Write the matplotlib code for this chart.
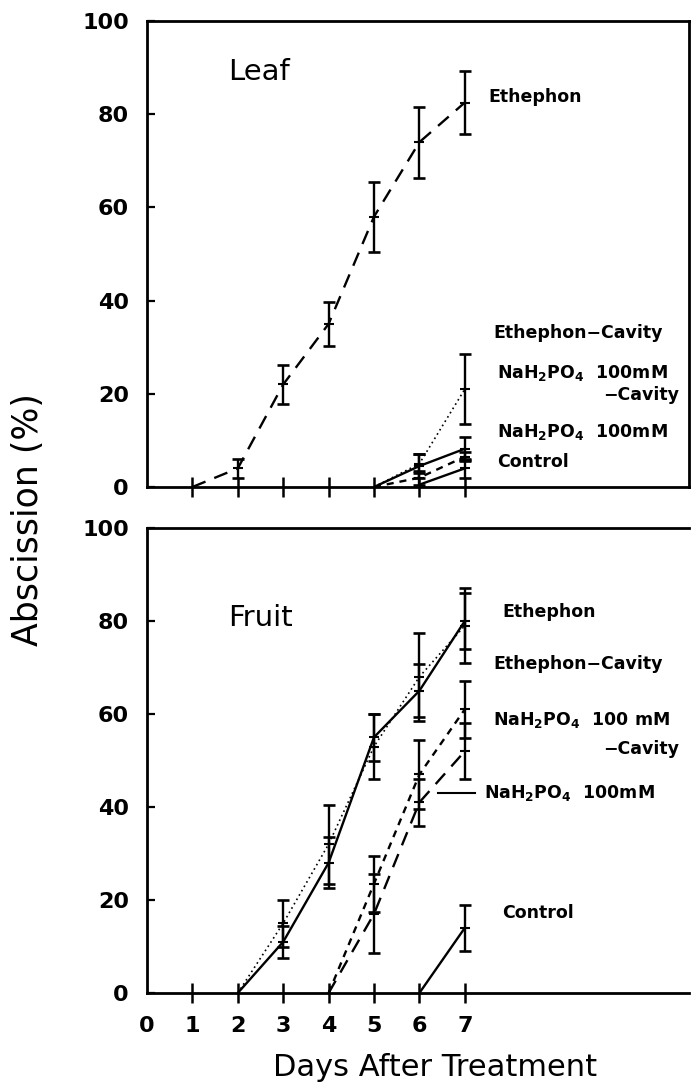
import matplotlib
matplotlib.use('Agg')
import matplotlib.pyplot as plt
import numpy as np

plt.rcParams['font.family'] = ['DejaVu Sans']
plt.rcParams['mathtext.default'] = 'regular'

# ---------------- data ----------------
xtick_vals = [0, 1, 2, 3, 4, 5, 6, 7]
xtick_labels = ['0', '1', '2', '3', '4', '5', '6', '7']
ytick_vals = [0, 20, 40, 60, 80, 100]
ytick_labels = ['0', '20', '40', '60', '80', '100']

# Leaf panel
leaf_eth_days = [1, 2, 3, 4, 5, 6, 7]
leaf_eth = [0, 4, 22, 35, 58, 74, 82.5]
leaf_eth_err = [0, 2, 4.2, 4.7, 7.5, 7.6, 6.8]

leaf_ethcav_days = [5, 6, 7]
leaf_ethcav = [0, 5, 21]
leaf_ethcav_err = [0, 2, 7.5]

leaf_nacav_days = [5, 6, 7]
leaf_nacav = [0, 4.5, 8.2]
leaf_nacav_err = [0, 2.5, 2.5]

leaf_na_days = [5, 6, 7]
leaf_na = [0, 2, 6.5]
leaf_na_err = [0, 1.5, 1.0]

leaf_ctrl_days = [6, 7]
leaf_ctrl = [0.5, 4]
leaf_ctrl_err = [0, 2]

# Fruit panel
fruit_eth_days = [2, 3, 4, 5, 6, 7]
fruit_eth = [0, 11, 28, 55, 65, 80]
fruit_eth_err = [0, 3.5, 5.5, 5, 5.7, 6]

fruit_ethcav_days = [2, 3, 4, 5, 6, 7]
fruit_ethcav = [0, 15, 32, 53, 68, 79]
fruit_ethcav_err = [0, 5, 8.5, 7, 9.5, 8]

fruit_nacav_days = [4, 5, 6, 7]
fruit_nacav = [0, 23.5, 47, 61]
fruit_nacav_err = [0, 6, 7.5, 6.2]

fruit_na_days = [4, 5, 6, 7]
fruit_na = [0, 17, 41, 52]
fruit_na_err = [0, 8.5, 5, 6]

fruit_ctrl_days = [6, 7]
fruit_ctrl = [0, 14]
fruit_ctrl_err = [0, 5]

NA_LABEL = r'NaH$_\mathbf{2}$PO$_\mathbf{4}$  100mM'
NA_LABEL_SP = r'NaH$_\mathbf{2}$PO$_\mathbf{4}$  100 mM'

# ---------------- styles ----------------
SOLID = dict(linestyle='-')
LONGDASH = dict(dashes=(6, 4))
SHORTDASH = dict(dashes=(3, 2.5))
DOTTED = dict(dashes=(1, 2.0))

LW = 1.7


def draw_series(ax, days, vals, errs, style, lw=LW):
    days = np.asarray(days, float)
    vals = np.asarray(vals, float)
    errs = np.asarray(errs, float)
    ax.plot(days, vals, color='black', lw=lw, solid_capstyle='butt',
            dash_capstyle='butt', **style)
    m = errs > 0
    ax.errorbar(days[m], vals[m], yerr=errs[m], fmt='none', ecolor='black',
                elinewidth=1.7, capsize=4.2, capthick=1.9)
    ax.plot(days[m], vals[m], linestyle='none', marker='_', markersize=7,
            markeredgewidth=1.5, color='black')


W, H = 691, 1086
fig = plt.figure(figsize=(W / 100, H / 100), dpi=100)

x0 = 147 / W
axw = (689 - 147) / W
ax_top = fig.add_axes([x0, 1 - 487 / H, axw, (487 - 21) / H])
ax_bot = fig.add_axes([x0, 1 - 993 / H, axw, (993 - 528) / H])

for ax in (ax_top, ax_bot):
    ax.set_xlim(0, (689 - 147) / 45.4)
    ax.set_ylim(0, 100)
    for s in ax.spines.values():
        s.set_linewidth(2.0)
    ax.set_yticks(ytick_vals)
    ax.set_yticklabels(ytick_labels, fontsize=16, fontweight='bold')
    ax.tick_params(axis='y', direction='in', length=6, width=1.6, pad=13)
    ax.set_xticks(xtick_vals)
    ax.tick_params(axis='x', direction='inout', length=15, width=1.8, pad=9)
    ax.xaxis.get_major_ticks()[0].tick1line.set_visible(False)

ax_top.set_xticklabels([])
ax_bot.set_xticklabels(xtick_labels, fontsize=16, fontweight='bold')
ax_bot.spines['right'].set_visible(False)

# ---- Leaf ----
draw_series(ax_top, leaf_eth_days, leaf_eth, leaf_eth_err, LONGDASH)
draw_series(ax_top, leaf_ethcav_days, leaf_ethcav, leaf_ethcav_err, DOTTED, lw=1.2)
draw_series(ax_top, leaf_nacav_days, leaf_nacav, leaf_nacav_err, SOLID)
draw_series(ax_top, leaf_na_days, leaf_na, leaf_na_err, SHORTDASH)
draw_series(ax_top, leaf_ctrl_days, leaf_ctrl, leaf_ctrl_err, SOLID)

ax_top.text(1.78, 89, 'Leaf', fontsize=21, va='center', ha='left')
lab = dict(fontsize=12.5, fontweight='bold', va='center', ha='left')
ax_top.text(7.51, 83.7, 'Ethephon', **lab)
ax_top.text(7.62, 33.0, 'Ethephon\u2212Cavity', **lab)
ax_top.text(7.71, 24.5, NA_LABEL, **lab)
ax_top.text(11.72, 19.7, '\u2212Cavity', fontsize=12.5, fontweight='bold',
            va='center', ha='right')
ax_top.text(7.71, 11.8, NA_LABEL, **lab)
ax_top.text(7.71, 5.4, 'Control', **lab)

# ---- Fruit ----
draw_series(ax_bot, fruit_eth_days, fruit_eth, fruit_eth_err, SOLID)
draw_series(ax_bot, fruit_ethcav_days, fruit_ethcav, fruit_ethcav_err, DOTTED, lw=1.2)
draw_series(ax_bot, fruit_nacav_days, fruit_nacav, fruit_nacav_err, SHORTDASH)
draw_series(ax_bot, fruit_na_days, fruit_na, fruit_na_err, LONGDASH)
draw_series(ax_bot, fruit_ctrl_days, fruit_ctrl, fruit_ctrl_err, SOLID)

ax_bot.text(1.78, 80.6, 'Fruit', fontsize=21, va='center', ha='left')
ax_bot.text(7.82, 81.9, 'Ethephon', **lab)
ax_bot.text(7.64, 70.8, 'Ethephon\u2212Cavity', **lab)
ax_bot.text(7.62, 58.7, NA_LABEL_SP, **lab)
ax_bot.text(11.72, 52.5, '\u2212Cavity', fontsize=12.5, fontweight='bold',
            va='center', ha='right')
ax_bot.plot([6.41, 7.22], [43, 43], color='black', lw=1.5)
ax_bot.text(7.42, 43.0, NA_LABEL, **lab)
ax_bot.text(7.82, 17.2, 'Control', **lab)

fig.text(28 / W, 1 - 520 / H, 'Abscission (%)', rotation=90, fontsize=25,
         ha='center', va='center')
fig.text(435 / W, 1 - 1067 / H, 'Days After Treatment', fontsize=22,
         ha='center', va='center')

fig.savefig('out.png', dpi=100)
